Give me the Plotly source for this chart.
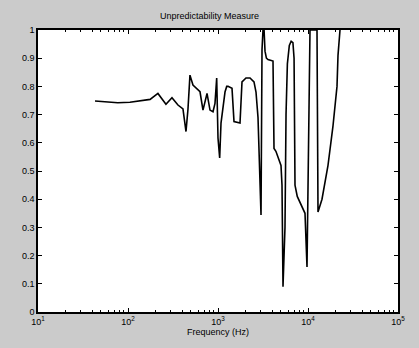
import plotly.graph_objects as go

# Frequency (Hz) and unpredictability measure values
freq = [43, 63, 77, 105, 136, 176, 215, 264, 308, 359, 408, 441, 464, 488, 527,
        631, 681, 717, 755, 815, 880, 926, 967, 1000, 1044, 1080, 1136, 1196, 1250,
        1292, 1431, 1506, 1756, 1848, 2047, 2268, 2512, 2644, 2783, 2929, 3005,
        3083, 3162, 3250, 3329, 3450, 3594, 4084, 4191, 4400, 4600, 5012, 5142,
        5275, 5551, 5700, 5900, 6200, 6500, 6800, 7000, 7170, 7600, 8150, 9261,
        9747, 10524, 11659, 12589, 12915, 14305, 16681, 18957, 21000, 21544, 22675]
measure = [0.748, 0.745, 0.742, 0.744, 0.748, 0.754, 0.775, 0.737, 0.760, 0.734,
           0.720, 0.640, 0.720, 0.840, 0.805, 0.781, 0.716, 0.750, 0.775, 0.716,
           0.710, 0.740, 0.830, 0.617, 0.546, 0.670, 0.716, 0.780, 0.800, 0.800,
           0.793, 0.675, 0.670, 0.816, 0.830, 0.830, 0.816, 0.780, 0.690, 0.430,
           0.344, 0.930, 1.000, 1.000, 0.925, 0.900, 0.895, 0.890, 0.580, 0.570,
           0.555, 0.520, 0.450, 0.090, 0.300, 0.700, 0.880, 0.945, 0.960, 0.955,
           0.900, 0.450, 0.410, 0.390, 0.350, 0.160, 1.000, 1.000, 1.000, 0.355,
           0.400, 0.520, 0.660, 0.800, 0.910, 1.000]

x_tickvals = [10, 100, 1000, 10000, 100000]
x_ticktext = ["10<sup>1</sup>", "10<sup>2</sup>", "10<sup>3</sup>", "10<sup>4</sup>", "10<sup>5</sup>"]
x_minor = [m * 10 ** d for d in range(1, 5) for m in range(2, 10)]
y_tickvals = [0, 0.1, 0.2, 0.3, 0.4, 0.5, 0.6, 0.7, 0.8, 0.9, 1]
y_ticktext = ["0", "0.1", "0.2", "0.3", "0.4", "0.5", "0.6", "0.7", "0.8", "0.9", "1"]

fig = go.Figure()
fig.add_trace(go.Scatter(x=freq, y=measure, mode="lines",
                         line=dict(color="black", width=1.6), showlegend=False))

font = dict(family="Liberation Sans, Arial, sans-serif", size=9, color="black")

fig.update_layout(
    width=419, height=348,
    margin=dict(l=38, r=21, t=30, b=36),
    paper_bgcolor="#cbcbcb",
    plot_bgcolor="white",
    font=font,
    title=dict(text="Unpredictability Measure", x=0.5, xanchor="center",
               y=1 - 16 / 348, yanchor="middle", font=dict(size=9, color="black")),
    xaxis=dict(type="log", range=[1, 5], tickvals=x_tickvals, ticktext=x_ticktext,
               ticks="inside", ticklen=4, tickcolor="black", showgrid=False,
               zeroline=False, showline=True, linecolor="black", linewidth=1.5,
               mirror="ticks",
               minor=dict(tickvals=x_minor, ticks="inside", ticklen=2,
                          tickcolor="black", showgrid=False),
               title=dict(text="Frequency (Hz)", standoff=2, font=dict(size=9)),
               tickfont=dict(size=9)),
    yaxis=dict(range=[0, 1], tickvals=y_tickvals, ticktext=y_ticktext,
               ticks="inside", ticklen=4, tickcolor="black", showgrid=False,
               zeroline=False, showline=True, linecolor="black", linewidth=1.5,
               mirror="ticks", tickfont=dict(size=9)),
)

fig.write_html("out.html")
